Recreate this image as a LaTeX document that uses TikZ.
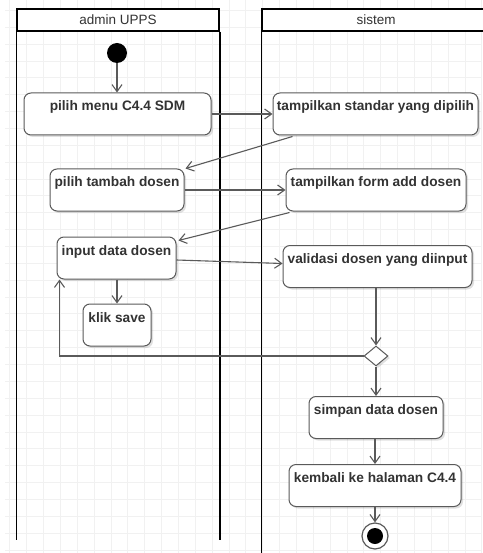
\documentclass[tikz,border=0pt]{standalone}
\usepackage{fontspec}
\setmainfont{Liberation Sans}
\usetikzlibrary{arrows.meta,calc,shapes.geometric,shadows}
\definecolor{txt}{HTML}{333333}
\definecolor{ln}{HTML}{5A5A5A}
\definecolor{gridc}{HTML}{F1F1F1}
\begin{document}
\begin{tikzpicture}[x=1pt,y=-1pt,
  act/.style={draw=ln, line width=1pt, fill=white, rounded corners=7pt,
    font=\fontsize{13.7}{16}\selectfont\bfseries, text=txt,
    inner xsep=2pt, inner ysep=0pt, text height=18pt, text depth=24pt,
    minimum height=42pt,
    drop shadow={fill=black, opacity=0.12, shadow xshift=2pt, shadow yshift=-2pt}},
  flow/.style={draw=ln, line width=1.1pt, -{Straight Barb[length=7pt,width=10pt]}},
  lanehead/.style={draw=black, line width=1.5pt, fill=white, minimum height=22pt,
    inner sep=0pt, font=\fontsize{13.5}{16}\selectfont, text=txt},
  laneline/.style={draw=black, line width=1.5pt}]
\useasboundingbox (0,0) rectangle (482,553);
\fill[white] (0,0) rectangle (482,553);
% grid
\foreach \i in {0,...,28} \draw[gridc, line width=1pt] ({9.84+16.86*\i},0) -- ++(0,553);
\foreach \i in {0,...,32} \draw[gridc, line width=1pt] (5,{10.5+16.86*\i}) -- ++(477,0);
% lanes
\node[lanehead, minimum width=202pt] (lane1) at (118,20) {admin UPPS};
\node[lanehead, minimum width=228pt] (lane2) at (376,20) {sistem};
\draw[laneline] (lane1.south west) -- ++(0,508);
\draw[laneline] (lane1.south east) -- ++(0,508);
\draw[laneline] (lane2.south west) -- ++(0,522);
% nodes
\node[circle, fill=black, minimum size=20pt, inner sep=0pt] (start) at (117,53) {};
\node[act, minimum width=187pt] (b1) at (117.5,114) {pilih menu C4.4 SDM};
\node[act, minimum width=205pt] (b2) at (375.5,114) {tampilkan standar yang dipilih};
\node[act, minimum width=134pt] (b3) at (117,190) {pilih tambah dosen};
\node[act, minimum width=180pt] (b4) at (376,190) {tampilkan form add dosen};
\node[act, minimum width=119pt] (b5) at (116.5,258) {input data dosen};
\node[act, minimum width=189pt] (b6) at (377.5,266.5) {validasi dosen yang diinput};
\node[act, minimum width=68pt] (b7) at (117,325) {klik save};
\node[diamond, draw=ln, fill=white, line width=1pt, minimum width=24pt, minimum height=20pt, inner sep=0pt,
  drop shadow={fill=black, opacity=0.12, shadow xshift=2pt, shadow yshift=-2pt}] (dec) at (376,356) {};
\node[act, minimum width=134pt] (b8) at (376,417.5) {simpan data dosen};
\node[act, minimum width=172pt] (b9) at (375,485.5) {kembali ke halaman C4.4};
\node[circle, draw=ln, line width=1.2pt, fill=white, minimum size=26pt, inner sep=0pt] (endo) at (375,536) {};
\node[circle, fill=black, minimum size=16pt, inner sep=0pt] (endi) at (endo) {};
% connectors
\draw[flow] (start) -- (b1.north -| start);
\draw[flow] (b1.east) -- (b2.west);
\draw[flow] ($(b2.south west)+(20,1)$) -- ($(b3.north east)+(1,0)$);
\draw[flow] (b3.east) -- (b4.west);
\draw[flow] ($(b4.south west)+(4,1)$) -- ($(b5.north east)+(2,4)$);
\draw[flow] ($(b5.east)+(0,2)$) -- ($(b6.west)+(0,-3)$);
\draw[flow] (b5.south -| b7) -- (b7.north);
\draw[flow] (b6.south -| dec) -- (dec.north);
\draw[flow] (dec.west) -| ($(b5.south west)+(3,0)$);
\draw[flow] (dec.south) -- (b8.north -| dec);
\draw[flow] (b8.south -| b9) -- (b9.north);
\draw[flow] (b9.south) -- (endo.north);
\end{tikzpicture}
\end{document}
